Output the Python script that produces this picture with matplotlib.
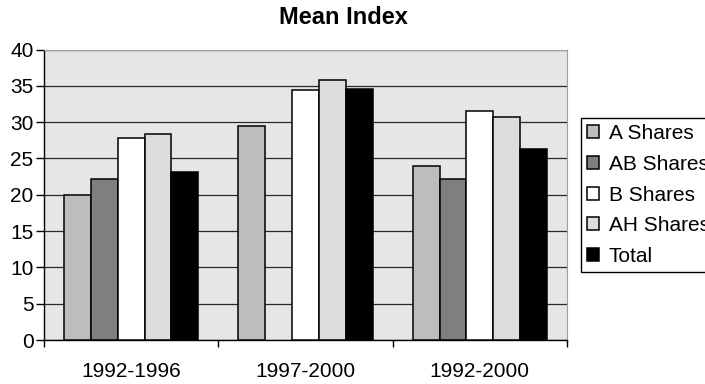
import matplotlib
matplotlib.use("Agg")
import matplotlib.pyplot as plt
import numpy as np

categories = ["1992-1996", "1997-2000", "1992-2000"]
series_names = ["A Shares", "AB Shares", "B Shares", "AH Shares", "Total"]
a_shares = [20.0, 29.4, 23.9]
ab_shares = [22.2, np.nan, 22.2]
b_shares = [27.8, 34.4, 31.5]
ah_shares = [28.4, 35.8, 30.7]
total = [23.2, 34.5, 26.3]
colors = ["#bdbdbd", "#7f7f7f", "#ffffff", "#dddddd", "#000000"]

plt.rcParams['font.family'] = ['Liberation Sans', 'DejaVu Sans']

W, H = 705, 384
fig = plt.figure(figsize=(W/100, H/100), dpi=100)
L, R, T, B = 44, 567, 49.5, 340
ax = fig.add_axes([L/W, 1-B/H, (R-L)/W, (B-T)/H])
ax.set_facecolor("#e6e6e6")

data = [a_shares, ab_shares, b_shares, ah_shares, total]
n = len(data)
w = 1.0 / (n + 1.5)
x = np.arange(len(categories))
for i, (vals, name, c) in enumerate(zip(data, series_names, colors)):
    offs = (i - (n - 1) / 2) * w
    ax.bar(x + offs, vals, width=w, color=c, edgecolor="black", linewidth=1.1,
           label=name, zorder=3)

ax.set_xlim(-0.5, 2.5)
ax.set_ylim(0, 40)
ax.set_yticks(range(0, 41, 5))
ax.yaxis.grid(True, color="#2a2a2a", linewidth=0.9, zorder=1)
ax.set_axisbelow(True)
ax.set_xticks(x)
ax.set_xticklabels(categories, fontsize=15)
ax.tick_params(axis='x', length=0, pad=16)
ax.set_xticks([-0.5, 0.5, 1.5, 2.5], minor=True)
ax.tick_params(axis='x', which='minor', length=5, width=1, direction='out')
ax.tick_params(axis='y', labelsize=15, length=5.5, width=1, direction='out', pad=2)
for s in ['top', 'right']:
    ax.spines[s].set_color("#a0a0a0")
for s in ['left', 'bottom']:
    ax.spines[s].set_color("black")
    ax.spines[s].set_linewidth(1.0)

fig.text(343/W, 1 - 17/H, "Mean Index", ha='center', va='center',
         fontsize=17, fontweight='bold')

leg = fig.legend(loc='upper left', bbox_to_anchor=(581/W, 1 - 118/H),
                 fontsize=15, frameon=True, fancybox=False, framealpha=1,
                 edgecolor='black', handlelength=0.58, handleheight=0.58,
                 handletextpad=0.45, labelspacing=0.56, borderpad=0.3,
                 borderaxespad=0)
leg.get_frame().set_linewidth(1.0)

fig.savefig("out.png", dpi=100)
